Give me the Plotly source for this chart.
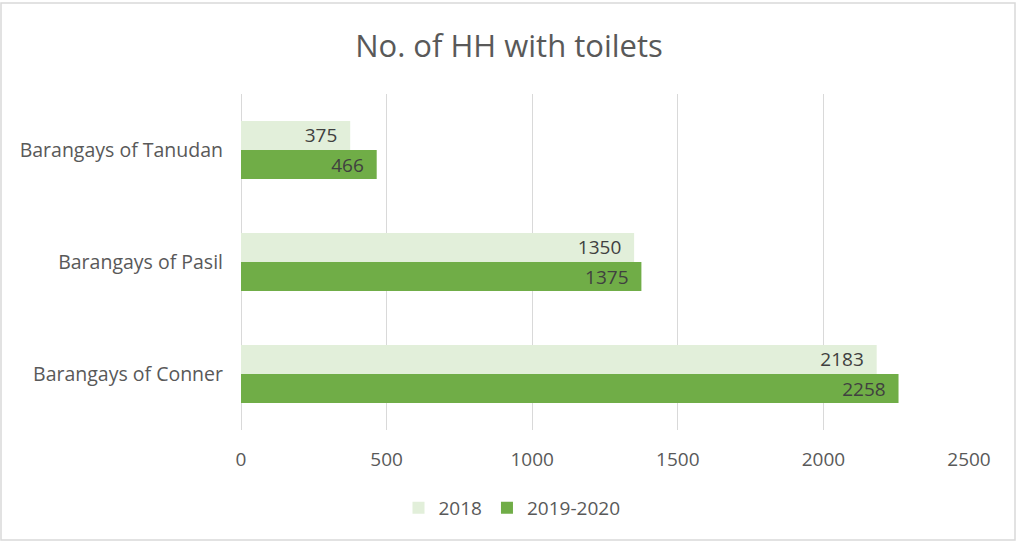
import plotly.graph_objects as go

categories = ["Barangays of Tanudan", "Barangays of Pasil", "Barangays of Conner"]
series_names = ["2018", "2019-2020"]
values_2018 = [375, 1350, 2183]
values_2019 = [466, 1375, 2258]
tick_vals = [0, 500, 1000, 1500, 2000, 2500]

W, H = 1018, 543
L, R, T, B = 241, 49, 94, 113
pw, ph = W - L - R, H - T - B

colors = ["#E2EFDA", "#70AD47"]
font_family = "Open Sans, Noto Sans, sans-serif"

fig = go.Figure()
for name, vals, col in zip(series_names, [values_2018, values_2019], colors):
    fig.add_trace(go.Bar(
        y=categories, x=vals, name=name, orientation="h",
        marker=dict(color=col, line=dict(width=0)),
        text=[f"{v}\u00a0\u00a0" for v in vals], textposition="inside",
        insidetextanchor="end", constraintext="none",
        textfont=dict(size=19, color="#404040", family=font_family),
        cliponaxis=False,
    ))

fig.update_layout(
    width=W, height=H,
    margin=dict(l=L, r=R, t=T, b=B),
    paper_bgcolor="white", plot_bgcolor="white",
    barmode="group", bargap=0.48, bargroupgap=0.0,
    uniformtext=dict(minsize=19, mode="show"),
    title=dict(text="No. of HH with toilets", x=0.5, xref="container", xanchor="center",
               y=1 - 46 / H, yanchor="middle",
               font=dict(size=31, color="#595959", family=font_family)),
    xaxis=dict(range=[0, 2500], tickvals=tick_vals, showgrid=True, gridcolor="#D9D9D9",
               gridwidth=1.3, zeroline=True, zerolinecolor="#D9D9D9", zerolinewidth=1.3,
               showline=False, ticks="",
               tickfont=dict(size=19, color="#595959", family=font_family), ticklabelstandoff=16),
    yaxis=dict(autorange="reversed", showgrid=False, showline=False, ticks="",
               tickfont=dict(size=19.5, color="#595959", family=font_family), ticklabelstandoff=17),
    legend=dict(orientation="h", x=(512 - L) / pw, xanchor="center",
                y=-(508 - (T + ph)) / ph, yanchor="middle",
                font=dict(size=19, color="#595959", family=font_family),
                traceorder="normal", itemwidth=30),
    showlegend=True,
)

# chart border
fig.add_shape(type="rect", xref="paper", yref="paper",
              x0=(1 - L) / pw, x1=(1015 - L) / pw,
              y0=-(540 - (T + ph)) / ph, y1=1 + (T - 3) / ph,
              line=dict(color="#D9D9D9", width=1.5), fillcolor="rgba(0,0,0,0)", layer="below")

fig.write_html("out.html")
